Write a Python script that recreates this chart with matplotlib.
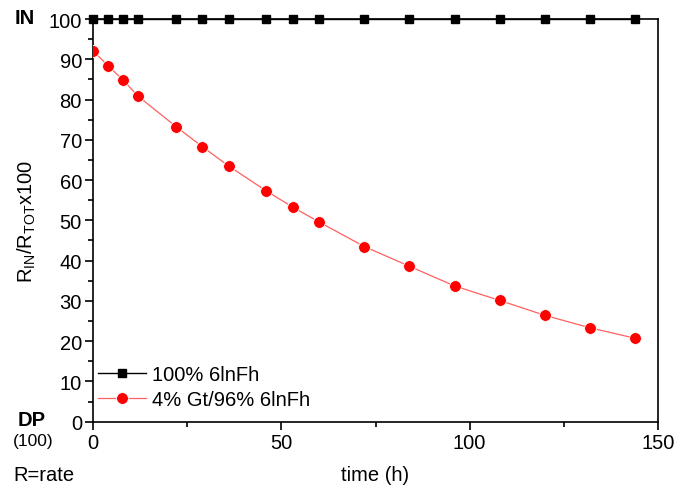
import numpy as np
import matplotlib.pyplot as plt
from matplotlib.ticker import MultipleLocator

plt.rcParams['font.family'] = ['Liberation Sans', 'DejaVu Sans']
plt.rcParams['mathtext.fontset'] = 'custom'
plt.rcParams['mathtext.rm'] = 'Liberation Sans'

# data
time_h = [0, 4, 8, 12, 22, 29, 36, 46, 53, 60, 72, 84, 96, 108, 120, 132, 144]
pure_6lnfh = [100] * len(time_h)
gt_6lnfh = [92.1, 88.4, 84.8, 80.8, 73.3, 68.3, 63.5, 57.3, 53.3, 49.6,
            43.5, 38.6, 33.7, 30.1, 26.4, 23.3, 20.7]
labels = ['100% 6lnFh', '4% Gt/96% 6lnFh']

fs = 14.5
fig = plt.figure(figsize=(6.78, 4.89), dpi=100)
ax = fig.add_axes([0.1372, 0.1356, 0.8333, 0.8235])

ax.plot(time_h, pure_6lnfh, color='black', lw=1.0, marker='s', ms=6,
        label=labels[0], clip_on=False, zorder=4)
ax.plot(time_h, gt_6lnfh, color='#ff6060', lw=0.9, marker='o', ms=8.5,
        mfc='red', mec='white', mew=0.6, label=labels[1], zorder=3)

ax.set_xlim(0, 150)
ax.set_ylim(0, 100)
ax.xaxis.set_major_locator(MultipleLocator(50))
ax.xaxis.set_minor_locator(MultipleLocator(25))
ax.yaxis.set_major_locator(MultipleLocator(10))
ax.yaxis.set_minor_locator(MultipleLocator(5))
ax.tick_params(which='both', direction='out', labelsize=fs, width=1.2)
ax.tick_params(which='major', length=6, pad=2)
ax.tick_params(which='minor', length=3.5)
for s in ax.spines.values():
    s.set_linewidth(1.2)

ax.set_xlabel('time (h)', fontsize=fs, va='center')
ax.xaxis.set_label_coords(0.5, -0.132)
ax.set_ylabel(r'R$_{\mathrm{IN}}$/R$_{\mathrm{TOT}}$x100', fontsize=fs, va='center')
ax.yaxis.set_label_coords(-0.117, 0.5)

fig.text(25 / 678, 1 - 18 / 489, 'IN', fontsize=fs, fontweight='bold', ha='center', va='center')
fig.text(32 / 678, 1 - 421 / 489, 'DP', fontsize=fs, fontweight='bold', ha='center', va='center')
fig.text(33 / 678, 1 - 442 / 489, '(100)', fontsize=12.5, ha='center', va='center')
fig.text(13 / 678, 1 - 476 / 489, 'R=rate', fontsize=fs, ha='left', va='center')

ax.legend(loc='center left', bbox_to_anchor=(0.009, 0.087), frameon=False,
          fontsize=fs, handlelength=2.4, handletextpad=0.3, labelspacing=0.3,
          borderaxespad=0.0, borderpad=0.0)

fig.savefig('out.png', dpi=100)
